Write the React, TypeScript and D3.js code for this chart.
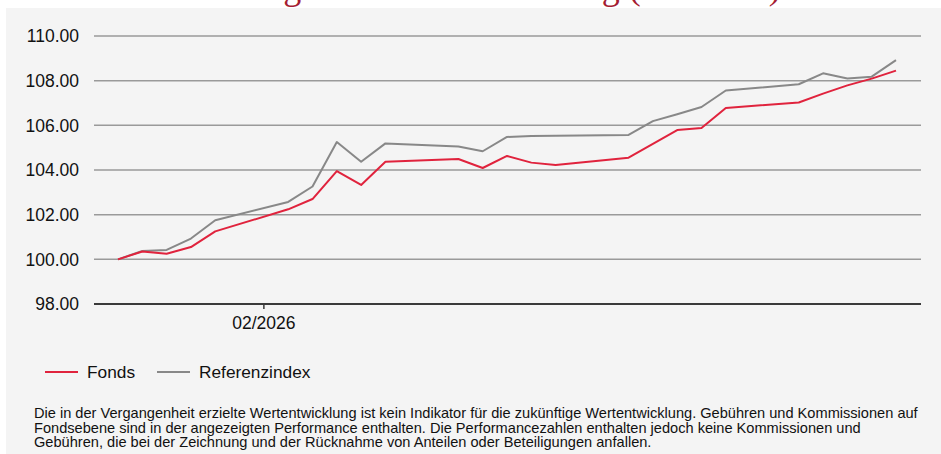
import React from "react";
import * as d3 from "d3";

const dates = [
  "2025-12-21", "2025-12-28", "2026-01-04", "2026-01-11", "2026-01-18",
  "2026-02-08", "2026-02-15", "2026-02-22", "2026-03-01", "2026-03-08",
  "2026-03-29", "2026-04-05", "2026-04-12", "2026-04-19", "2026-04-26",
  "2026-05-17", "2026-05-24", "2026-05-31", "2026-06-07", "2026-06-14",
  "2026-07-05", "2026-07-12", "2026-07-19", "2026-07-26", "2026-08-02",
];
const fonds = [
  100.0, 100.35, 100.25, 100.55, 101.25,
  102.24, 102.7, 103.95, 103.33, 104.37,
  104.49, 104.09, 104.63, 104.33, 104.22,
  104.55, 105.17, 105.79, 105.88, 106.78,
  107.02, 107.42, 107.79, 108.09, 108.45,
];
const referenz = [
  100.0, 100.37, 100.42, 100.93, 101.75,
  102.57, 103.26, 105.25, 104.37, 105.19,
  105.05, 104.84, 105.48, 105.52, 105.53,
  105.57, 106.19, 106.5, 106.82, 107.56,
  107.84, 108.33, 108.1, 108.18, 108.92,
];
const yTicks = [98, 100, 102, 104, 106, 108, 110];
const xTicks = ["2026-02-01"];
const seriesNames = ["Fonds", "Referenzindex"];
const title = "Leistung und Wertentwicklung (indexiert)";
const footnote = [
  "Die in der Vergangenheit erzielte Wertentwicklung ist kein Indikator für die zukünftige Wertentwicklung. Gebühren und Kommissionen auf",
  "Fondsebene sind in der angezeigten Performance enthalten. Die Performancezahlen enthalten jedoch keine Kommissionen und",
  "Gebühren, die bei der Zeichnung und der Rücknahme von Anteilen oder Beteiligungen anfallen.",
];

const RED = "#e0233d";
const GRAY = "#888888";
const FONT = "'Liberation Sans', Arial, sans-serif";

export default function App() {
  const parse = d3.utcParse("%Y-%m-%d");
  const ds = dates.map((d) => parse(d) as Date);
  const x = d3
    .scaleUtc()
    .domain([ds[0], ds[ds.length - 1]])
    .range([118, 896]);
  const y = d3.scaleLinear().domain([98, 110]).range([304, 36]);
  const line = d3
    .line<number>()
    .x((_, i) => x(ds[i]))
    .y((v) => y(v));
  const fmt = d3.format(".2f");
  const tfmt = d3.utcFormat("%m/%Y");

  return (
    <div style={{ position: "absolute", left: 0, top: 0 }}>
      <svg width={941} height={454} style={{ display: "block" }}>
        <rect x={0} y={0} width={941} height={454} fill="#ffffff" />
        <text
          x={478}
          y={-1}
          textAnchor="middle"
          fontFamily="'Liberation Serif', 'Times New Roman', serif"
          fontSize={36}
          fill="#a51d33"
        >
          {title}
        </text>
        <rect x={6} y={8} width={935} height={446} fill="#f4f4f4" />
        {yTicks.map((t) => (
          <g key={t}>
            <line
              x1={94}
              x2={921}
              y1={y(t)}
              y2={y(t)}
              stroke={t === 98 ? "#3a3a3a" : "#9a9a9a"}
              strokeWidth={t === 98 ? 2 : 1.5}
            />
            <text
              x={79}
              y={y(t)}
              dy="0.36em"
              textAnchor="end"
              fontFamily={FONT}
              fontSize={17.5}
              fill="#111"
            >
              {fmt(t)}
            </text>
          </g>
        ))}
        {xTicks.map((t) => {
          const d = parse(t) as Date;
          return (
            <g key={t}>
              <line x1={x(d)} x2={x(d)} y1={304} y2={309} stroke="#3a3a3a" strokeWidth={1.5} />
              <text
                x={x(d)}
                y={329}
                textAnchor="middle"
                fontFamily={FONT}
                fontSize={17.5}
                fill="#111"
              >
                {tfmt(d)}
              </text>
            </g>
          );
        })}
        <path d={line(referenz) || ""} fill="none" stroke={GRAY} strokeWidth={2} strokeLinejoin="round" />
        <path d={line(fonds) || ""} fill="none" stroke={RED} strokeWidth={2} strokeLinejoin="round" />
        <g fontFamily={FONT} fontSize={17.3} fill="#111">
          <line x1={45} x2={78} y1={372} y2={372} stroke={RED} strokeWidth={2} />
          <text x={87} y={378}>{seriesNames[0]}</text>
          <line x1={157} x2={190} y1={372} y2={372} stroke={GRAY} strokeWidth={2} />
          <text x={199} y={378}>{seriesNames[1]}</text>
        </g>
        <g fontFamily={FONT} fontSize={14.6} fill="#111">
          {footnote.map((l, i) => (
            <text key={i} x={34} y={418 + i * 14.5}>
              {l}
            </text>
          ))}
        </g>
      </svg>
    </div>
  );
}
